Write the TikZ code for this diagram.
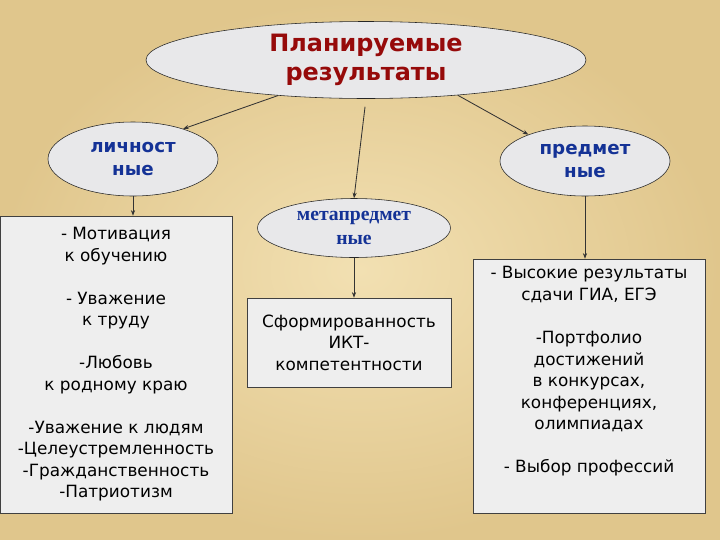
\documentclass[tikz,border=0pt]{standalone}
\usepackage{fontspec}
\setmainfont{DejaVu Sans}
\newfontfamily\metafont{Liberation Serif}
\usetikzlibrary{shapes.geometric,arrows.meta}

\definecolor{parchin}{RGB}{242,224,178}
\definecolor{parchout}{RGB}{224,198,140}
\definecolor{titlered}{RGB}{150,10,10}
\definecolor{headblue}{RGB}{20,50,150}
\definecolor{ovalgray}{RGB}{232,232,234}
\definecolor{boxgray}{RGB}{238,238,238}

\tikzset{
  oval/.style={ellipse, draw=black!85, fill=ovalgray, inner sep=0pt, align=center},
  listbox/.style={rectangle, draw=black!75, fill=boxgray, inner sep=0pt, align=center,
    font=\fontsize{12}{15.3}\selectfont},
  arr/.style={draw=black!80, line width=0.6pt, -{Stealth[length=4pt,width=3pt]}}
}

\begin{document}
\begin{tikzpicture}

        % background
        \shade[inner color=parchin, outer color=parchout] (0,0) rectangle (18,-13.5);
        \useasboundingbox (0,0) rectangle (18,-13.5);

        \begin{scope}[every node/.style={oval}]
          \node (plan) at (9.15,-1.5)    [minimum width=11cm, minimum height=1.925cm,
                font=\fontsize{17}{21}\selectfont\bfseries, text=titlered]
                {Планируемые\\результаты};
          \node (lich) at (3.325,-3.975) [minimum width=4.25cm, minimum height=1.85cm,
                font=\fontsize{13}{17}\selectfont\bfseries, text=headblue]
                {личност\\ные};
          \node (meta) at (8.85,-5.7)    [minimum width=4.825cm, minimum height=1.475cm,
                font=\fontsize{14}{17}\metafont\bfseries, text=headblue]
                {метапредмет\\ные};
          \node (pred) at (14.625,-4.025) [minimum width=4.25cm, minimum height=1.75cm,
                font=\fontsize{13}{17}\selectfont\bfseries, text=headblue]
                {предмет\\ные};
        \end{scope}

        \begin{scope}[every node/.style={listbox}]
          \node (lbox) at (2.9,-9.1125) [minimum width=5.8cm, minimum height=7.425cm]
                {- Мотивация\\к обучению\\[15.3pt]
                 - Уважение\\к труду\\[15.3pt]
                 -Любовь\\к родному краю\\[15.3pt]
                 -Уважение к людям\\-Целеустремленность\\
                 -Гражданственность\\-Патриотизм};
          \node (mbox) at (8.725,-8.5625) [minimum width=5.1cm, minimum height=2.225cm]
                {Сформированность\\ИКТ-\\компетентности};
          \node (rbox) at (14.725,-9.65) [minimum width=5.8cm, minimum height=6.35cm]
                {- Высокие результаты\\сдачи ГИА, ЕГЭ\\[15.3pt]
                 -Портфолио\\достижений\\в конкурсах,\\конференциях,\\олимпиадах\\[15.3pt]
                 - Выбор профессий\\[8pt]\mbox{}};
        \end{scope}

        \begin{scope}[every edge/.style={arr}]
          \path (plan.202) edge (lich.31);
          \path (plan.south) edge[shorten <=0.2cm] (meta.north);
          \path (plan.339) edge (pred.155);
          \path (lich.south) edge (lich.south |- lbox.north);
          \path (meta.south) edge (meta.south |- mbox.north);
          \path (pred.south) edge (pred.south |- rbox.north);
        \end{scope}

      \end{tikzpicture}
\end{document}
